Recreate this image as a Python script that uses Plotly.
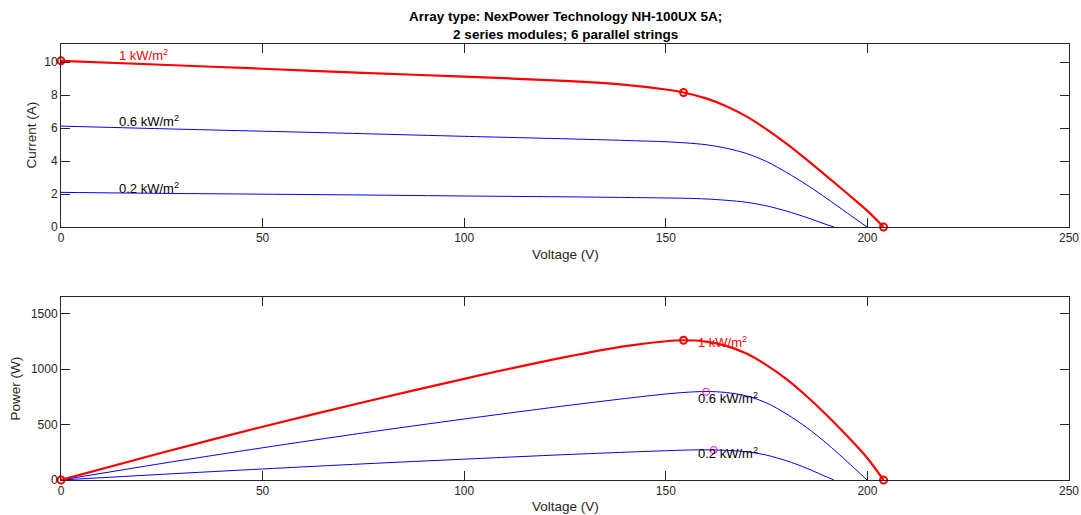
import numpy as np
import plotly.graph_objects as go

# ---- data ----
v_1kw = [0, 25, 50, 75, 100, 125, 140, 150, 154.4, 160, 165, 170, 175, 180, 185, 190, 195, 200, 204]
i_1kw = [10.08, 9.84, 9.60, 9.35, 9.12, 8.86, 8.62, 8.34, 8.16, 7.80, 7.33, 6.71, 5.92, 5.04, 4.07, 3.06, 2.03, 0.98, 0.0]

v_06 = [0, 25, 50, 75, 100, 125, 140, 150, 155, 160, 165, 170, 175, 180, 185, 190, 195, 199.9]
i_06 = [6.12, 5.96, 5.81, 5.66, 5.50, 5.35, 5.25, 5.17, 5.10, 4.99, 4.78, 4.46, 3.97, 3.30, 2.55, 1.72, 0.85, 0.0]

v_02 = [0, 25, 50, 75, 100, 125, 140, 150, 155, 160, 165, 170, 175, 180, 185, 189, 191.7]
i_02 = [2.10, 2.04, 1.99, 1.94, 1.88, 1.83, 1.79, 1.76, 1.74, 1.70, 1.62, 1.50, 1.28, 0.96, 0.57, 0.22, 0.0]

# key points of the 1 kW/m2 curve: short circuit, MPP, open circuit
key_v = [0, 154.4, 204]
key_i = [10.08, 8.16, 0.0]

# MPPs of the 0.6 and 0.2 kW/m2 curves
mpp_v = [160.0, 161.9]
mpp_i = [4.97, 1.67]

labels = ["1 kW/m<sup>2</sup>", "0.6 kW/m<sup>2</sup>", "0.2 kW/m<sup>2</sup>"]
x_ticks = [0, 50, 100, 150, 200, 250]
i_ticks = [0, 2, 4, 6, 8, 10]
p_ticks = [0, 500, 1000, 1500]

RED = "#FF0000"
BLUE = "#0000FF"
MAG = "#FF00FF"
AX = "#262626"
FONT = "Liberation Sans, Arial, Helvetica, sans-serif"

def p(v, i):
    return (np.array(v) * np.array(i)).tolist()

fig = go.Figure()

# ---- top: I-V ----
for v, i in [(v_06, i_06), (v_02, i_02)]:
    fig.add_trace(go.Scatter(x=v, y=i, mode="lines", line=dict(color=BLUE, width=1, shape="spline", smoothing=0.8),
                             xaxis="x", yaxis="y", hoverinfo="skip"))
fig.add_trace(go.Scatter(x=v_1kw, y=i_1kw, mode="lines", line=dict(color=RED, width=2.2, shape="spline", smoothing=0.8),
                         xaxis="x", yaxis="y"))
fig.add_trace(go.Scatter(x=key_v, y=key_i, mode="markers", cliponaxis=False,
                         marker=dict(symbol="circle-open", size=7, color=RED, line=dict(width=2, color=RED)),
                         xaxis="x", yaxis="y"))

# ---- bottom: P-V ----
for v, i in [(v_06, i_06), (v_02, i_02)]:
    fig.add_trace(go.Scatter(x=v, y=p(v, i), mode="lines", line=dict(color=BLUE, width=1, shape="spline", smoothing=0.8),
                             xaxis="x2", yaxis="y2"))
fig.add_trace(go.Scatter(x=v_1kw, y=p(v_1kw, i_1kw), mode="lines", line=dict(color=RED, width=2.2, shape="spline", smoothing=0.8),
                         xaxis="x2", yaxis="y2"))
fig.add_trace(go.Scatter(x=key_v, y=p(key_v, key_i), mode="markers", cliponaxis=False,
                         marker=dict(symbol="circle-open", size=7, color=RED, line=dict(width=2, color=RED)),
                         xaxis="x2", yaxis="y2"))
fig.add_trace(go.Scatter(x=mpp_v, y=p(mpp_v, mpp_i), mode="markers", cliponaxis=False,
                         marker=dict(symbol="circle-open", size=7, color=MAG, line=dict(width=1, color=MAG)),
                         xaxis="x2", yaxis="y2"))

ax_common = dict(showgrid=False, zeroline=False, showline=True, linecolor=AX, linewidth=1,
                 mirror="allticks", ticks="inside", ticklen=9, tickcolor=AX, tickwidth=1, automargin=False,
                 tickfont=dict(family=FONT, size=12, color=AX))

fig.update_layout(
    width=1081, height=515,
    margin=dict(l=61, r=12, t=44, b=35),
    paper_bgcolor="white", plot_bgcolor="white",
    showlegend=False,
    xaxis=dict(ax_common, range=[0, 250], tickvals=x_ticks, anchor="y"),
    yaxis=dict(ax_common, range=[0, 11.1], tickvals=i_ticks, domain=[0.5803, 1], anchor="x"),
    xaxis2=dict(ax_common, range=[0, 250], tickvals=x_ticks, anchor="y2"),
    yaxis2=dict(ax_common, range=[0, 1650], tickvals=p_ticks, domain=[0, 0.4197], anchor="x2"),
)

ann = []
# title
ann.append(dict(text="<b>Array type: NexPower Technology NH-100UX 5A;<br>2 series modules; 6 parallel strings</b>",
                xref="paper", yref="paper", x=0.5, y=1, xanchor="center", yanchor="bottom", yshift=0,
                showarrow=False, font=dict(family=FONT, size=13.5, color="black")))
# axis titles
for yr, sh in [("y domain", -28), ("y2 domain", -26)]:
    ann.append(dict(text="Voltage (V)", xref="paper", yref=yr, x=0.5, y=0, xanchor="center", yanchor="middle",
                    yshift=sh, showarrow=False, font=dict(family=FONT, size=13.5, color=AX)))
ann.append(dict(text="Current (A)", xref="paper", yref="y domain", x=0, y=0.5, xanchor="center", yanchor="middle",
                xshift=-30, textangle=-90, showarrow=False, font=dict(family=FONT, size=13.5, color=AX)))
ann.append(dict(text="Power (W)", xref="paper", yref="y2 domain", x=0, y=0.5, xanchor="center", yanchor="middle",
                xshift=-45, textangle=-90, showarrow=False, font=dict(family=FONT, size=13.5, color=AX)))

# curve labels
top_lab_v = [13.8, 13.8, 13.8]
top_lab_i = [10.45, 6.42, 2.38]
bot_lab_v = [157.6, 157.4, 157.4]
bot_lab_p = [1245, 743, 245]
colors = [RED, "black", "black"]
for k in range(3):
    ann.append(dict(text=labels[k], xref="x", yref="y", x=top_lab_v[k], y=top_lab_i[k], xanchor="left", yanchor="middle",
                    showarrow=False, font=dict(family=FONT, size=13, color=colors[k])))
    ann.append(dict(text=labels[k], xref="x2", yref="y2", x=bot_lab_v[k], y=bot_lab_p[k], xanchor="left", yanchor="middle",
                    showarrow=False, font=dict(family=FONT, size=13, color=colors[k])))

fig.update_layout(annotations=ann)
fig.write_html("out.html")
